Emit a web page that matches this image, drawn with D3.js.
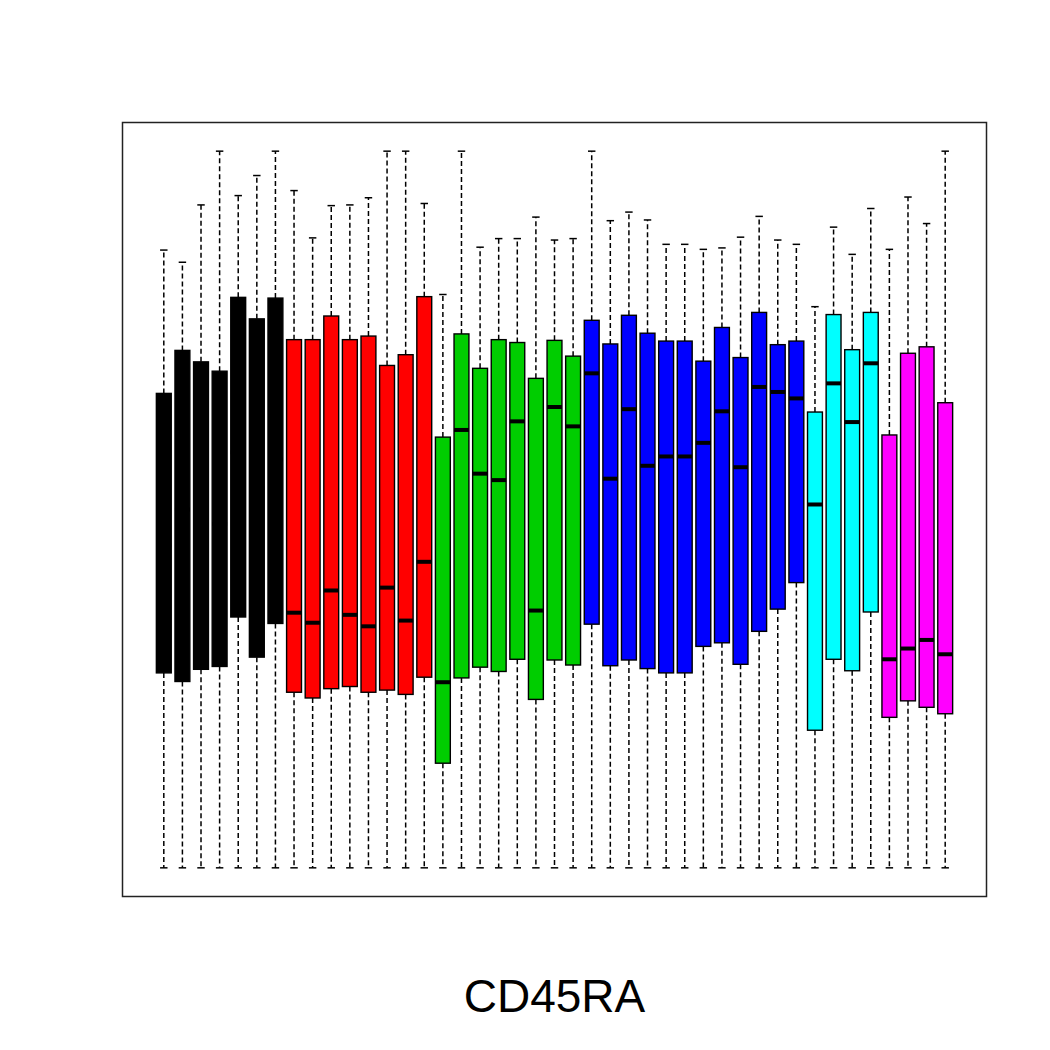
<!DOCTYPE html>
<html>
<head>
<meta charset="utf-8">
<script src="https://cdn.jsdelivr.net/npm/d3@7"></script>
<style>
  body { margin: 0; background: #fff; }
  svg { display: block; }
</style>
</head>
<body>
<div id="chart"></div>
<script>
// marker name and the colour of each sample group
var title = "CD45RA";
var groupColors = ["#000000", "#FF0000", "#00CD00", "#0000FF", "#00FFFF", "#FF00FF"];
var groupSizes = [7, 8, 8, 12, 4, 4];

// box statistics, one entry per sample (43 samples)
var upperWhisker = [86.2, 84.5, 92.5, 100, 93.8, 96.6, 100,
	94.5, 87.9, 92.4, 92.5, 93.5, 100, 100, 92.7,
	80.0, 100, 86.6, 87.8, 87.8, 90.8, 87.6, 87.8,
	100, 90.3, 91.5, 90.4, 87.0, 87.0, 86.3, 86.5, 88.0, 90.9, 87.6, 87.0,
	78.3, 89.4, 85.6, 92.0,
	86.3, 93.6, 89.9, 100];
var q3 = [66.2, 72.2, 70.6, 69.3, 79.6, 76.6, 79.5,
	73.7, 73.7, 77.0, 73.7, 74.2, 70.1, 71.6, 79.7,
	60.1, 74.5, 69.7, 73.7, 73.3, 68.3, 73.6, 71.4,
	76.4, 73.1, 77.1, 74.6, 73.5, 73.5, 70.7, 75.4, 71.2, 77.5, 73.0, 73.5,
	63.6, 77.2, 72.3, 77.5,
	60.4, 71.8, 72.7, 64.9];
var median = [45.0, 50.0, 48.0, 48.0, 58.0, 53.0, 57.0,
	35.6, 34.2, 38.7, 35.3, 33.7, 39.1, 34.5, 42.7,
	25.9, 61.1, 55.0, 54.1, 62.3, 35.9, 64.3, 61.6,
	69.0, 54.3, 64.0, 56.1, 57.4, 57.4, 59.3, 63.7, 55.9, 67.1, 66.4, 65.5,
	50.7, 67.6, 62.2, 70.4,
	29.1, 30.6, 31.8, 29.8];
var q1 = [27.2, 26.0, 27.7, 28.1, 35.0, 29.4, 34.1,
	24.5, 23.7, 25.0, 25.3, 24.5, 24.8, 24.2, 26.6,
	14.6, 26.5, 28.0, 27.4, 29.1, 23.5, 29.0, 28.3,
	34.0, 28.2, 29.0, 27.8, 27.2, 27.2, 30.9, 31.4, 28.4, 33.0, 36.1, 39.8,
	19.2, 29.1, 27.5, 35.7,
	21.0, 23.3, 22.4, 21.5];
var lowerWhisker = [0, 0, 0, 0, 0, 0, 0,
	0, 0, 0, 0, 0, 0, 0, 0,
	0, 0, 0, 0, 0, 0, 0, 0,
	0, 0, 0, 0, 0, 0, 0, 0, 0, 0, 0, 0,
	0, 0, 0, 0,
	0, 0, 0, 0];

var width = 1050, height = 1050;
var plot = {left: 122.5, right: 986.5, top: 122.5, bottom: 896.5};

// colour per box from the group sizes
var boxColors = [];
groupSizes.forEach(function(n, g) {
	for (var i = 0; i < n; i++) boxColors.push(groupColors[g]);
});

var boxes = q3.map(function(d, i) {
	return {
		pos: i + 1,
		hi: upperWhisker[i],
		q3: q3[i],
		med: median[i],
		q1: q1[i],
		lo: lowerWhisker[i],
		color: boxColors[i]
	};
});

var n = boxes.length;
var xPad = 0.04 * n;
var x = d3.scaleLinear()
	.domain([0.5 - xPad, n + 0.5 + xPad])
	.range([plot.left, plot.right]);

var yMin = d3.min(lowerWhisker), yMax = d3.max(upperWhisker);
var yPad = 0.04 * (yMax - yMin);
var y = d3.scaleLinear()
	.domain([yMin - yPad, yMax + yPad])
	.range([plot.bottom, plot.top]);

var boxW = 0.8 * (x(2) - x(1));
var capW = boxW / 2;

var svg = d3.select("#chart")
	.append("svg")
	.attr("width", width)
	.attr("height", height);

var g = svg.selectAll("g.box")
	.data(boxes)
	.enter()
	.append("g")
	.attr("class", "box");

//whiskers
g.append("line")
	.attr("x1", function(d) { return x(d.pos); })
	.attr("x2", function(d) { return x(d.pos); })
	.attr("y1", function(d) { return y(d.q3); })
	.attr("y2", function(d) { return y(d.hi); })
	.attr("stroke", "#000")
	.attr("stroke-width", 1.5)
	.attr("stroke-dasharray", "5,3");
g.append("line")
	.attr("x1", function(d) { return x(d.pos); })
	.attr("x2", function(d) { return x(d.pos); })
	.attr("y1", function(d) { return y(d.q1); })
	.attr("y2", function(d) { return y(d.lo); })
	.attr("stroke", "#000")
	.attr("stroke-width", 1.5)
	.attr("stroke-dasharray", "5,3");

//caps
["hi", "lo"].forEach(function(k) {
	g.append("line")
		.attr("x1", function(d) { return x(d.pos) - capW / 2; })
		.attr("x2", function(d) { return x(d.pos) + capW / 2; })
		.attr("y1", function(d) { return y(d[k]); })
		.attr("y2", function(d) { return y(d[k]); })
		.attr("stroke", "#000")
		.attr("stroke-width", 1.5);
});

//boxes
g.append("rect")
	.attr("x", function(d) { return x(d.pos) - boxW / 2; })
	.attr("y", function(d) { return y(d.q3); })
	.attr("width", boxW)
	.attr("height", function(d) { return y(d.q1) - y(d.q3); })
	.attr("fill", function(d) { return d.color; })
	.attr("stroke", "#000")
	.attr("stroke-width", 1.4);

//medians
g.append("line")
	.attr("x1", function(d) { return x(d.pos) - boxW / 2; })
	.attr("x2", function(d) { return x(d.pos) + boxW / 2; })
	.attr("y1", function(d) { return y(d.med); })
	.attr("y2", function(d) { return y(d.med); })
	.attr("stroke", "#000")
	.attr("stroke-width", 4);

//frame
svg.append("rect")
	.attr("x", plot.left)
	.attr("y", plot.top)
	.attr("width", plot.right - plot.left)
	.attr("height", plot.bottom - plot.top)
	.attr("fill", "none")
	.attr("stroke", "#222")
	.attr("stroke-width", 1.5);

//title below the plot
svg.append("text")
	.attr("x", (plot.left + plot.right) / 2)
	.attr("y", 1011.5)
	.attr("text-anchor", "middle")
	.attr("font-family", "Liberation Sans, Arial, sans-serif")
	.attr("font-size", "46px")
	.attr("fill", "#000")
	.text(title);
</script>
</body>
</html>
